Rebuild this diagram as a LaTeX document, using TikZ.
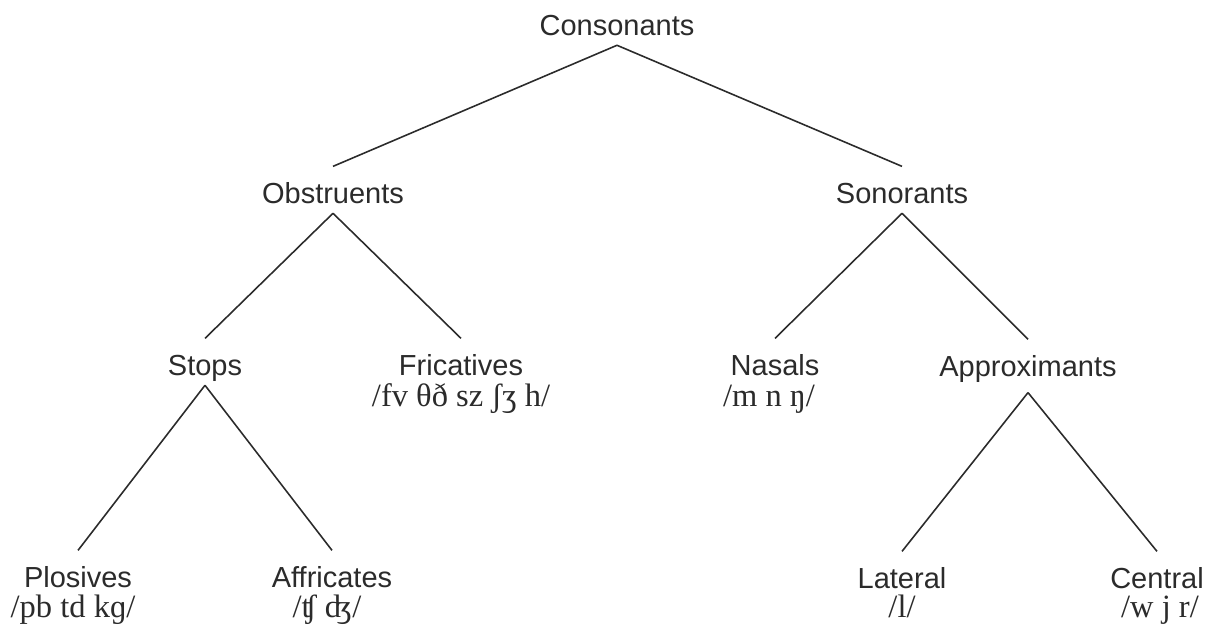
\documentclass[tikz,border=0pt]{standalone}
\usepackage{fontspec}
\setmainfont{Liberation Serif}
\setsansfont{Liberation Sans}
\usetikzlibrary{positioning}
\definecolor{inkgray}{HTML}{2B2B2B}

\begin{document}
\begin{tikzpicture}[x=0.02cm, y=-0.02cm, line width=0.9pt,
    cat/.style={inkgray, font=\sffamily\fontsize{16.5}{20}\selectfont, anchor=base,
      inner sep=0pt, text height=20.4pt, text depth=5.4pt},
    ipa/.style={inkgray, font=\rmfamily\fontsize{18.5}{20}\selectfont, anchor=base, inner sep=0pt},
    branch/.style={draw=inkgray}]
  \useasboundingbox (0,0) rectangle (1216,632);

  % categories
  \node[cat] (cons) at (617,35) {Consonants};
  \node[cat] (obs) at (333,203) {Obstruents};
  \node[cat] (son) at (902,203) {Sonorants};
  \node[cat] (stops) at (205,375) {Stops};
  \node[cat] (fric) at (461,375) {Fricatives};
  \node[cat] (nas) at (775,375) {Nasals};
  \node[cat, text depth=9pt] (appr) at (1028,376) {Approximants};
  \node[cat] (plos) at (78,587) {Plosives};
  \node[cat] (affr) at (332,587) {Affricates};
  \node[cat] (lat) at (902,588) {Lateral};
  \node[cat] (cent) at (1157,588) {Central};

  % transcriptions
  \node[ipa] (fricipa) at (461,406) {/fv θð sz ʃʒ h/};
  \node[ipa] (nasipa) at (769,406) {/m n ŋ/};
  \node[ipa] (plosipa) at (73,617) {/pb td kɡ/};
  \node[ipa] (affripa) at (327,617) {/ʧ ʤ/};
  \node[ipa] (latipa) at (902,617) {/l/};
  \node[ipa] (centipa) at (1160,617) {/w j r/};

  % branches
  \draw[branch] (cons.south) -- (obs.north);
  \draw[branch] (cons.south) -- (son.north);
  \draw[branch] (obs.south) -- (stops.north);
  \draw[branch] (obs.south) -- (fric.north);
  \draw[branch] (son.south) -- (nas.north);
  \draw[branch] (son.south) -- (appr.north);
  \draw[branch] (stops.south) -- (plos.north);
  \draw[branch] (stops.south) -- (affr.north);
  \draw[branch] (appr.south) -- (lat.north);
  \draw[branch] (appr.south) -- (cent.north);
\end{tikzpicture}
\end{document}
